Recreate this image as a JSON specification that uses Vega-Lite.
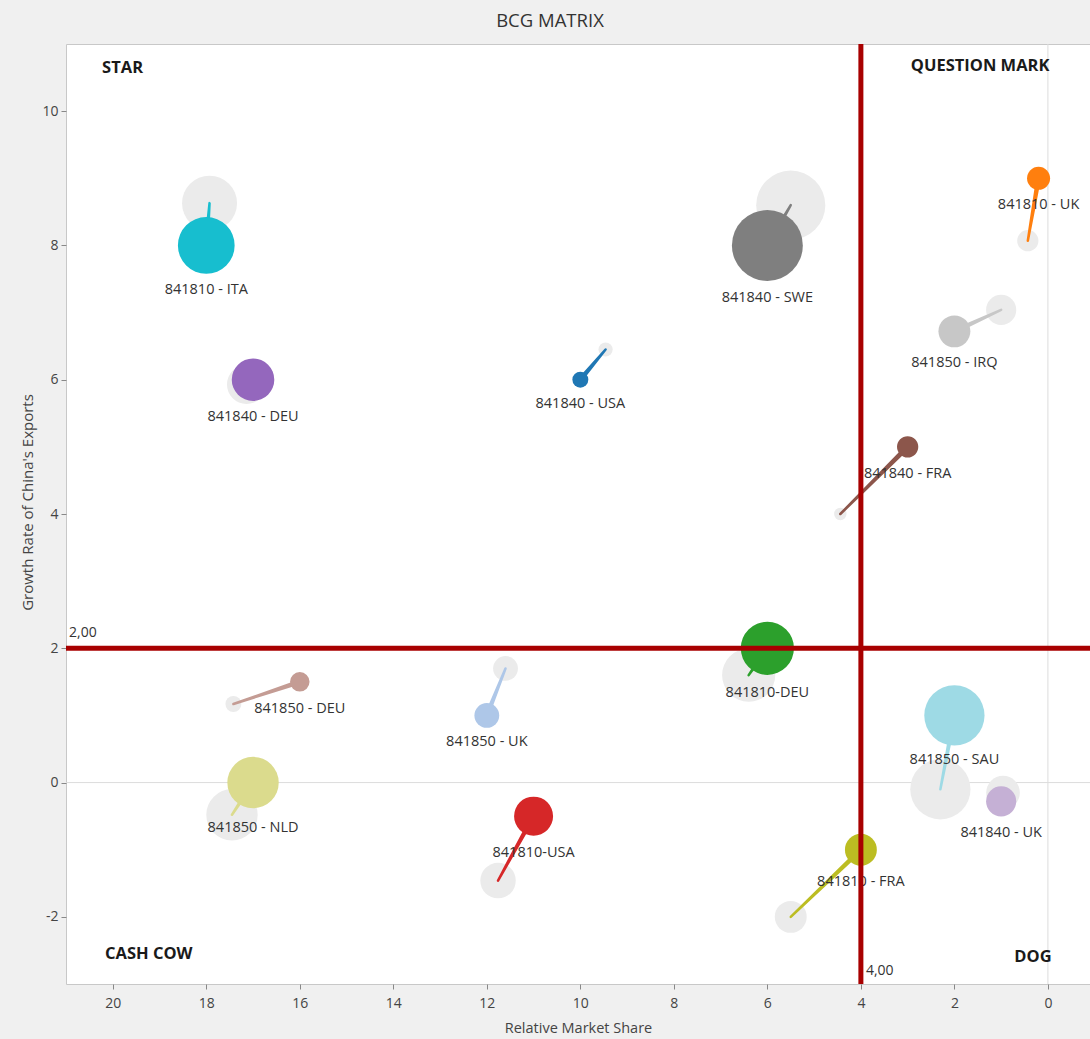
{
  "$schema": "https://vega.github.io/schema/vega-lite/v6.json",
  "width": 1024,
  "height": 940,
  "autosize": {"type": "none"},
  "padding": {"left": 66, "top": 44, "right": 0, "bottom": 55},
  "background": "#f0f0f0",
  "config": {"view": {"fill": "white", "stroke": "#c8c8c8"}, "font": "Open Sans"},
  "title": {"text": "BCG MATRIX", "anchor": "middle", "frame": "group", "dx": -28, "offset": 11, "fontSize": 18.5, "fontWeight": "normal", "color": "#333333", "font": "Open Sans"},
  "datasets": {
    "one": [{}],
    "pts": [
      {"label": "841810 - ITA", "period": "prev", "step": 0, "share": 17.93, "growth": 8.63, "value": 961},
      {"label": "841810 - ITA", "period": "curr", "step": 1, "share": 18.0, "growth": 8.0, "value": 1024},
      {"label": "841840 - DEU", "period": "prev", "step": 0, "share": 17.14, "growth": 5.93, "value": 484},
      {"label": "841840 - DEU", "period": "curr", "step": 1, "share": 17.0, "growth": 6.0, "value": 576},
      {"label": "841840 - USA", "period": "prev", "step": 0, "share": 9.46, "growth": 6.45, "value": 64},
      {"label": "841840 - USA", "period": "curr", "step": 1, "share": 10.0, "growth": 6.0, "value": 81},
      {"label": "841840 - SWE", "period": "prev", "step": 0, "share": 5.5, "growth": 8.6, "value": 1521},
      {"label": "841840 - SWE", "period": "curr", "step": 1, "share": 6.0, "growth": 8.0, "value": 1600},
      {"label": "841810 - UK", "period": "prev", "step": 0, "share": 0.43, "growth": 8.07, "value": 144},
      {"label": "841810 - UK", "period": "curr", "step": 1, "share": 0.2, "growth": 9.0, "value": 169},
      {"label": "841850 - IRQ", "period": "prev", "step": 0, "share": 1.0, "growth": 7.04, "value": 289},
      {"label": "841850 - IRQ", "period": "curr", "step": 1, "share": 2.0, "growth": 6.72, "value": 324},
      {"label": "841840 - FRA", "period": "prev", "step": 0, "share": 4.44, "growth": 4.0, "value": 49},
      {"label": "841840 - FRA", "period": "curr", "step": 1, "share": 3.0, "growth": 5.0, "value": 144},
      {"label": "841810-DEU", "period": "prev", "step": 0, "share": 6.4, "growth": 1.6, "value": 900},
      {"label": "841810-DEU", "period": "curr", "step": 1, "share": 6.0, "growth": 2.0, "value": 900},
      {"label": "841850 - SAU", "period": "prev", "step": 0, "share": 2.3, "growth": -0.1, "value": 1156},
      {"label": "841850 - SAU", "period": "curr", "step": 1, "share": 2.0, "growth": 1.0, "value": 1156},
      {"label": "841840 - UK", "period": "prev", "step": 0, "share": 0.96, "growth": -0.15, "value": 361},
      {"label": "841840 - UK", "period": "curr", "step": 1, "share": 1.0, "growth": -0.28, "value": 289},
      {"label": "841810 - FRA", "period": "prev", "step": 0, "share": 5.5, "growth": -2.0, "value": 324},
      {"label": "841810 - FRA", "period": "curr", "step": 1, "share": 4.0, "growth": -1.0, "value": 324},
      {"label": "841810-USA", "period": "prev", "step": 0, "share": 11.76, "growth": -1.46, "value": 400},
      {"label": "841810-USA", "period": "curr", "step": 1, "share": 11.0, "growth": -0.5, "value": 484},
      {"label": "841850 - NLD", "period": "prev", "step": 0, "share": 17.45, "growth": -0.48, "value": 841},
      {"label": "841850 - NLD", "period": "curr", "step": 1, "share": 17.0, "growth": 0.0, "value": 841},
      {"label": "841850 - UK", "period": "prev", "step": 0, "share": 11.6, "growth": 1.7, "value": 196},
      {"label": "841850 - UK", "period": "curr", "step": 1, "share": 12.0, "growth": 1.0, "value": 196},
      {"label": "841850 - DEU", "period": "prev", "step": 0, "share": 17.42, "growth": 1.17, "value": 81},
      {"label": "841850 - DEU", "period": "curr", "step": 1, "share": 16.0, "growth": 1.5, "value": 121}
    ],
    "quad": [
      {"name": "STAR", "share": 19.79, "growth": 10.64},
      {"name": "QUESTION MARK", "share": 1.45, "growth": 10.67},
      {"name": "CASH COW", "share": 19.23, "growth": -2.55},
      {"name": "DOG", "share": 0.32, "growth": -2.6}
    ]
  },
  "resolve": {"scale": {"size": "independent"}},
  "layer": [
    {
      "data": {"name": "one"},
      "mark": {"type": "rule", "color": "#dcdcdc", "strokeWidth": 1},
      "encoding": {
        "x": {"datum": 0, "type": "quantitative",
          "scale": {"domain": [-0.9, 21], "reverse": true, "nice": false, "zero": false},
          "axis": {"title": "Relative Market Share", "values": [0, 2, 4, 6, 8, 10, 12, 14, 16, 18, 20], "labelExpr": "datum.value < 0 ? '-' + abs(datum.value) : '' + datum.value", "grid": false, "domain": false, "tickColor": "#888888", "tickSize": 5, "labelColor": "#444444", "labelFontSize": 14, "labelPadding": 7, "titleFontSize": 14.5, "titleFontWeight": "normal", "titleColor": "#444444", "titleY": 37, "titleBaseline": "top"}}
      }
    },
    {
      "data": {"name": "one"},
      "mark": {"type": "rule", "color": "#dcdcdc", "strokeWidth": 1},
      "encoding": {
        "y": {"datum": 0, "type": "quantitative",
          "scale": {"domain": [-3, 11], "nice": false, "zero": false},
          "axis": {"title": "Growth Rate of China's Exports", "values": [-2, 0, 2, 4, 6, 8, 10], "labelExpr": "datum.value < 0 ? '-' + abs(datum.value) : '' + datum.value", "grid": false, "domain": false, "tickColor": "#888888", "tickSize": 5, "labelColor": "#444444", "labelFontSize": 14, "labelPadding": 3, "titleFontSize": 15, "titleFontWeight": "normal", "titleColor": "#444444", "titleX": -31, "titleY": 458, "titleAngle": -90, "titleAlign": "center", "titleBaseline": "bottom"}}
      }
    },
    {
      "data": {"name": "pts"},
      "transform": [{"filter": "datum.period === 'prev'"}],
      "mark": {"type": "circle", "color": "#ebebeb", "opacity": 1},
      "encoding": {
        "x": {"field": "share", "type": "quantitative"},
        "y": {"field": "growth", "type": "quantitative"},
        "size": {"field": "value", "type": "quantitative", "scale": {"domain": [0, 1600], "range": [0, 5027]}, "legend": null}
      }
    },
    {
      "data": {"name": "pts"},
      "mark": {"type": "trail"},
      "encoding": {
        "x": {"field": "share", "type": "quantitative"},
        "y": {"field": "growth", "type": "quantitative"},
        "detail": {"field": "label"},
        "order": {"field": "step"},
        "size": {"field": "step", "type": "quantitative", "scale": {"domain": [0, 1], "range": [2.5, 5]}, "legend": null},
        "color": {"field": "label", "type": "nominal", "legend": null,
          "scale": {
            "domain": ["841840 - USA", "841810 - UK", "841810-DEU", "841810-USA", "841840 - DEU", "841840 - FRA", "841850 - DEU", "841840 - SWE", "841850 - IRQ", "841810 - FRA", "841850 - NLD", "841810 - ITA", "841850 - SAU", "841850 - UK", "841840 - UK"],
            "range": ["#1f77b4", "#ff7f0e", "#2ca02c", "#d62728", "#9467bd", "#8c564b", "#c49c94", "#7f7f7f", "#c7c7c7", "#bcbd22", "#dbdb8d", "#17becf", "#9edae5", "#aec7e8", "#c5b0d5"]
          }}
      }
    },
    {
      "data": {"name": "pts"},
      "transform": [{"filter": "datum.period === 'curr'"}],
      "mark": {"type": "circle", "opacity": 1},
      "encoding": {
        "x": {"field": "share", "type": "quantitative"},
        "y": {"field": "growth", "type": "quantitative"},
        "size": {"field": "value", "type": "quantitative", "scale": {"domain": [0, 1600], "range": [0, 5027]}, "legend": null},
        "color": {"field": "label", "type": "nominal", "legend": null}
      }
    },
    {
      "data": {"name": "pts"},
      "transform": [{"filter": "datum.period === 'curr' && datum.value < 100"}],
      "mark": {"type": "text", "fontSize": 14.5, "color": "#333333", "baseline": "middle", "align": "center", "dy": 24},
      "encoding": {"x": {"field": "share", "type": "quantitative"}, "y": {"field": "growth", "type": "quantitative"}, "text": {"field": "label"}}
    },
    {
      "data": {"name": "pts"},
      "transform": [{"filter": "datum.period === 'curr' && datum.value >= 100 && datum.value < 250"}],
      "mark": {"type": "text", "fontSize": 14.5, "color": "#333333", "baseline": "middle", "align": "center", "dy": 27},
      "encoding": {"x": {"field": "share", "type": "quantitative"}, "y": {"field": "growth", "type": "quantitative"}, "text": {"field": "label"}}
    },
    {
      "data": {"name": "pts"},
      "transform": [{"filter": "datum.period === 'curr' && datum.value >= 250 && datum.value < 400"}],
      "mark": {"type": "text", "fontSize": 14.5, "color": "#333333", "baseline": "middle", "align": "center", "dy": 32},
      "encoding": {"x": {"field": "share", "type": "quantitative"}, "y": {"field": "growth", "type": "quantitative"}, "text": {"field": "label"}}
    },
    {
      "data": {"name": "pts"},
      "transform": [{"filter": "datum.period === 'curr' && datum.value >= 400 && datum.value < 700"}],
      "mark": {"type": "text", "fontSize": 14.5, "color": "#333333", "baseline": "middle", "align": "center", "dy": 37},
      "encoding": {"x": {"field": "share", "type": "quantitative"}, "y": {"field": "growth", "type": "quantitative"}, "text": {"field": "label"}}
    },
    {
      "data": {"name": "pts"},
      "transform": [{"filter": "datum.period === 'curr' && datum.value >= 700 && datum.value < 1400"}],
      "mark": {"type": "text", "fontSize": 14.5, "color": "#333333", "baseline": "middle", "align": "center", "dy": 45},
      "encoding": {"x": {"field": "share", "type": "quantitative"}, "y": {"field": "growth", "type": "quantitative"}, "text": {"field": "label"}}
    },
    {
      "data": {"name": "pts"},
      "transform": [{"filter": "datum.period === 'curr' && datum.value >= 1400"}],
      "mark": {"type": "text", "fontSize": 14.5, "color": "#333333", "baseline": "middle", "align": "center", "dy": 53},
      "encoding": {"x": {"field": "share", "type": "quantitative"}, "y": {"field": "growth", "type": "quantitative"}, "text": {"field": "label"}}
    },
    {
      "data": {"name": "one"},
      "mark": {"type": "rule", "color": "#a80000", "strokeWidth": 5},
      "encoding": {"x": {"datum": 4, "type": "quantitative"}}
    },
    {
      "data": {"name": "one"},
      "mark": {"type": "rule", "color": "#a80000", "strokeWidth": 5},
      "encoding": {"y": {"datum": 2, "type": "quantitative"}}
    },
    {
      "data": {"name": "one"},
      "mark": {"type": "text", "text": "2,00", "fontSize": 14, "color": "#333333", "align": "left", "baseline": "middle", "dx": 3, "dy": -15},
      "encoding": {"x": {"datum": 21, "type": "quantitative"}, "y": {"datum": 2, "type": "quantitative"}}
    },
    {
      "data": {"name": "one"},
      "mark": {"type": "text", "text": "4,00", "fontSize": 14, "color": "#333333", "align": "left", "baseline": "middle", "dx": 5, "dy": -13},
      "encoding": {"x": {"datum": 4, "type": "quantitative"}, "y": {"datum": -3, "type": "quantitative"}}
    },
    {
      "data": {"name": "quad"},
      "mark": {"type": "text", "fontSize": 16.5, "fontWeight": "bold", "color": "#1a1a1a", "align": "center", "baseline": "middle"},
      "encoding": {
        "x": {"field": "share", "type": "quantitative"},
        "y": {"field": "growth", "type": "quantitative"},
        "text": {"field": "name"}
      }
    }
  ]
}
